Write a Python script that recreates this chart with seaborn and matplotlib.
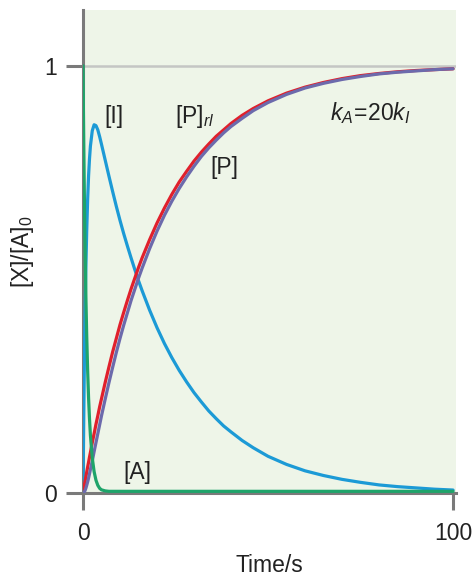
import matplotlib
matplotlib.use("Agg")
import matplotlib.pyplot as plt
import seaborn as sns
import pandas as pd

# Values
time_s = [0, 0.1, 0.2, 0.3, 0.4, 0.5, 0.6, 0.8, 1, 1.25, 1.5, 1.75, 2, 2.5, 3, 3.5, 4, 4.5,
          5, 6, 7, 8, 9, 10, 11, 12, 13, 14, 15, 16, 18, 20, 22, 24, 26, 28, 30, 32, 34, 36,
          38, 40, 43, 46, 50, 55, 60, 65, 70, 75, 80, 85, 90, 95, 100]
conc_A = [1.0, 0.905, 0.819, 0.741, 0.670, 0.607, 0.549, 0.449, 0.368, 0.287, 0.223, 0.174,
          0.135, 0.082, 0.050, 0.030, 0.018, 0.011, 0.0075, 0.005, 0.004, 0.004, 0.004, 0.004,
          0.004, 0.004, 0.004, 0.004, 0.004, 0.004, 0.004, 0.004, 0.004, 0.004, 0.004, 0.004,
          0.004, 0.004, 0.004, 0.004, 0.004, 0.004, 0.004, 0.004, 0.004, 0.004, 0.004, 0.004,
          0.004, 0.004, 0.004, 0.004, 0.004, 0.004, 0.004]
conc_I = [0.0, 0.095, 0.180, 0.257, 0.326, 0.388, 0.444, 0.538, 0.614, 0.687, 0.742, 0.782,
          0.812, 0.848, 0.862, 0.860, 0.850, 0.834, 0.816, 0.779, 0.742, 0.706, 0.671, 0.638,
          0.607, 0.578, 0.550, 0.523, 0.497, 0.473, 0.428, 0.387, 0.350, 0.317, 0.287, 0.260,
          0.235, 0.213, 0.192, 0.174, 0.157, 0.143, 0.123, 0.106, 0.086, 0.067, 0.052, 0.041,
          0.032, 0.025, 0.019, 0.015, 0.012, 0.009, 0.007]
conc_P = [0.0, 0.0003, 0.001, 0.002, 0.0035, 0.005, 0.007, 0.012, 0.018, 0.026, 0.035, 0.045,
          0.055, 0.075, 0.097, 0.118, 0.139, 0.160, 0.181, 0.220, 0.258, 0.294, 0.329, 0.362,
          0.393, 0.422, 0.451, 0.477, 0.503, 0.527, 0.572, 0.613, 0.650, 0.683, 0.713, 0.740,
          0.765, 0.788, 0.808, 0.826, 0.843, 0.858, 0.877, 0.895, 0.914, 0.933, 0.948, 0.959,
          0.968, 0.975, 0.981, 0.985, 0.988, 0.991, 0.993]
conc_Prl = [0.0, 0.005, 0.010, 0.015, 0.020, 0.025, 0.030, 0.039, 0.049, 0.061, 0.072, 0.084,
            0.095, 0.118, 0.139, 0.161, 0.181, 0.202, 0.221, 0.259, 0.295, 0.330, 0.362, 0.394,
            0.423, 0.451, 0.478, 0.503, 0.528, 0.551, 0.593, 0.632, 0.667, 0.699, 0.728, 0.753,
            0.777, 0.798, 0.817, 0.835, 0.850, 0.865, 0.884, 0.900, 0.918, 0.936, 0.950, 0.961,
            0.970, 0.977, 0.982, 0.986, 0.989, 0.991, 0.993]
x_ticks = [0, 100]
y_ticks = [0, 1]
x_tick_labels = ["0", "100"]
y_tick_labels = ["0", "1"]

sns.set_style("ticks")
plt.rcParams["font.family"] = ["Liberation Sans", "DejaVu Sans"]
plt.rcParams["mathtext.fontset"] = "custom"
plt.rcParams["mathtext.rm"] = "Liberation Sans"
plt.rcParams["mathtext.it"] = "Liberation Sans:italic"
plt.rcParams["mathtext.bf"] = "Liberation Sans:bold"

df = pd.DataFrame({"t": time_s, "A": conc_A, "I": conc_I, "P": conc_P, "Prl": conc_Prl})

fig = plt.figure(figsize=(4.76, 5.78), dpi=100)
ax = fig.add_axes([0.1744, 0.147, 0.9580 - 0.1744, 0.983 - 0.147])
ax.set_facecolor("#eef5e8")

gray = "#7a7a7a"
ax.axhline(1, color="#c4c6c4", lw=1.8, zorder=1)

lw = 2.3
sns.lineplot(data=df, x="t", y="I", ax=ax, color="#1c9ad6", lw=lw, zorder=3)
sns.lineplot(data=df, x="t", y="Prl", ax=ax, color="#e0202c", lw=lw, zorder=4)
sns.lineplot(data=df, x="t", y="P", ax=ax, color="#6c6aac", lw=lw, zorder=5)
sns.lineplot(data=df, x="t", y="A", ax=ax, color="#1ea46a", lw=lw, zorder=6)

ax.set_xlim(0, 100.8)
ax.set_ylim(0, 1.131)
ax.set_xticks(x_ticks)
ax.set_xticklabels(x_tick_labels)
ax.set_yticks(y_ticks)
ax.set_yticklabels(y_tick_labels)

for s in ["top", "right"]:
    ax.spines[s].set_visible(False)
for s in ["left", "bottom"]:
    ax.spines[s].set_color(gray)
    ax.spines[s].set_linewidth(2.2)
    ax.spines[s].set_zorder(2)
ax.tick_params(axis="both", direction="out", length=12, width=2.2, color=gray,
               labelsize=16.5, labelcolor="#222222")
ax.tick_params(axis="x", pad=9)
ax.tick_params(axis="y", pad=7)

ax.set_xlabel("Time/s", fontsize=16.5, color="#222222", labelpad=6)
ax.set_ylabel("[X]/[A]$_0$", fontsize=16.5, color="#222222", labelpad=6)

tc = "#222222"
fs = 16.5
ax.text(5.9, 0.867, "[I]", fontsize=fs, color=tc, ha="left", va="baseline")
ax.text(24.9, 0.867, "[P]$_{rl}$", fontsize=fs, color=tc, ha="left", va="baseline")
ax.text(34.3, 0.747, "[P]", fontsize=fs, color=tc, ha="left", va="baseline")
ax.text(66.8, 0.874, "$k_A\\!=\\!20k_I$", fontsize=fs, color=tc, ha="left", va="baseline")
ax.text(10.8, 0.033, "[A]", fontsize=fs, color=tc, ha="left", va="baseline")

fig.savefig("out.png", dpi=100)
